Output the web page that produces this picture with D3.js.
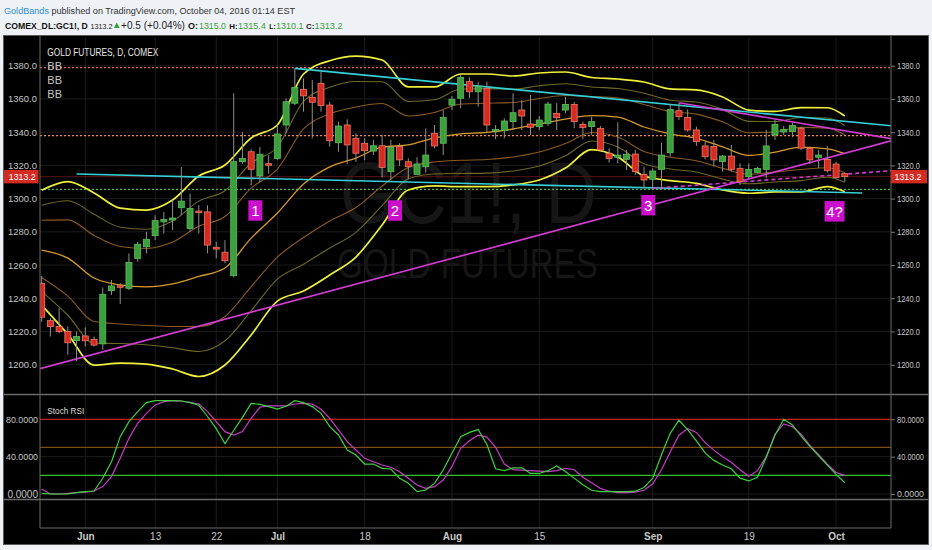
<!DOCTYPE html>
<html><head><meta charset="utf-8">
<script src="https://cdn.jsdelivr.net/npm/d3@7"></script>
<style>
body{margin:0;background:#eef2f6;}
svg{display:block;}
text{font-family:"Liberation Sans",Arial,sans-serif;}
</style></head><body>
<svg id="c" width="932" height="550"></svg>
<script>
// ---------------- DATA ----------------
const dates = ["2016-05-24","2016-05-25","2016-05-26","2016-05-27","2016-05-31",
"2016-06-01","2016-06-02","2016-06-03","2016-06-06","2016-06-07","2016-06-08","2016-06-09","2016-06-10","2016-06-13","2016-06-14","2016-06-15","2016-06-16","2016-06-17","2016-06-20","2016-06-21","2016-06-22","2016-06-23","2016-06-24","2016-06-27","2016-06-28","2016-06-29","2016-06-30",
"2016-07-01","2016-07-05","2016-07-06","2016-07-07","2016-07-08","2016-07-11","2016-07-12","2016-07-13","2016-07-14","2016-07-15","2016-07-18","2016-07-19","2016-07-20","2016-07-21","2016-07-22","2016-07-25","2016-07-26","2016-07-27","2016-07-28","2016-07-29",
"2016-08-01","2016-08-02","2016-08-03","2016-08-04","2016-08-05","2016-08-08","2016-08-09","2016-08-10","2016-08-11","2016-08-12","2016-08-15","2016-08-16","2016-08-17","2016-08-18","2016-08-19","2016-08-22","2016-08-23","2016-08-24","2016-08-25","2016-08-26","2016-08-29","2016-08-30","2016-08-31",
"2016-09-01","2016-09-02","2016-09-06","2016-09-07","2016-09-08","2016-09-09","2016-09-12","2016-09-13","2016-09-14","2016-09-15","2016-09-16","2016-09-19","2016-09-20","2016-09-21","2016-09-22","2016-09-23","2016-09-26","2016-09-27","2016-09-28","2016-09-29","2016-09-30",
"2016-10-03","2016-10-04"];
const futureDates = ["2016-10-05","2016-10-06"];

const opens = [1249,1226.5,1223,1220,1214.5,1217.3,1215.3,1212.5,1244.6,1247.5,1246,1264,1271,1277.7,1286,1287.1,1294.5,1282,1292.5,1292,1270.7,1267.7,1253.6,1322.2,1328.2,1313.6,1321,
1324.2,1344.3,1357.4,1365.8,1361,1369.4,1356.3,1333.6,1344.3,1336.3,1333.3,1328.6,1331.8,1316.2,1331.3,1322.2,1314.6,1319.2,1339.3,1333.3,
1356.3,1360.4,1370.4,1364.3,1366.4,1341,1340.9,1346.3,1353.3,1344.9,1343.3,1345.3,1351.3,1353.3,1356.7,1344.7,1343.3,1342.3,1327.3,1324.9,1323.6,1326.8,1314.6,
1311.6,1317.6,1327.6,1352.9,1348.9,1341.3,1331.7,1331.3,1322.2,1325.6,1318.2,1313.2,1315.8,1317.6,1338.3,1340.1,1340.3,1342.3,1330.3,1324.9,1323.6,
1320.8,1315.0];
const highs = [1253.4,1228,1234,1223,1220,1222.5,1217,1246.5,1251,1249,1267,1274,1280,1290,1292,1299,1319,1303,1296,1296,1274,1275,1363.4,1340,1329.7,1331,1326,
1344.3,1360.4,1378.4,1372.4,1371.4,1376.4,1358.3,1346.3,1347.7,1339.3,1336.3,1335.3,1338.3,1335.3,1333.3,1324.2,1324.9,1342.3,1344.3,1353.3,
1361.8,1374.4,1373,1370.4,1370.4,1344.3,1348.3,1363.4,1359.3,1362.4,1349.7,1358.3,1357.4,1361.3,1358.3,1346.3,1349.3,1343.7,1330.3,1346,1329.3,1329.3,1319.2,
1318.2,1333.6,1356.7,1357.7,1353.7,1343.3,1334.3,1335.3,1326.2,1332.3,1321.2,1321.2,1319.2,1341.3,1347.3,1343.7,1345.7,1343.3,1331.3,1329.3,1331.7,
1322.2,1315.4];
const lows = [1225.9,1217,1219,1206,1202,1211,1211,1209,1242,1236.5,1245,1262,1267,1275,1279,1281,1290,1280,1279,1267,1264,1261,1252.5,1321,1308,1310,1315,
1323.2,1339.3,1356.3,1352.3,1336.3,1352.3,1331.2,1328.2,1320.8,1322.2,1323.2,1326.2,1312.8,1311.2,1319.6,1311.6,1314.2,1315.6,1330.3,1326.2,
1353.3,1354.4,1360.4,1355.3,1340.3,1335.7,1336.3,1341.3,1341.3,1338.3,1341.3,1343.7,1341.3,1351.3,1342.3,1335.7,1338.3,1328.2,1321.6,1321.2,1317.2,1314.2,1306.2,
1306.2,1306.2,1325.2,1347.3,1340.3,1331.7,1323.6,1319.2,1316.2,1316.2,1308.2,1312.2,1315.2,1312.2,1335.3,1338.3,1336.9,1329.2,1320.8,1318.2,1315.6,
1312.2,1310.1];
const closes = [1228.6,1223,1220,1213.2,1217,1214.4,1211.8,1242.4,1247.4,1246.6,1261.6,1272.5,1275.5,1286.7,1287.5,1288.3,1298.5,1294,1291.5,1272,1269.6,1262.6,1322.2,1324.2,1317.6,1326.7,1320.4,
1338.9,1358.3,1367,1361.8,1358,1356,1334.8,1343.7,1332.3,1327.3,1328.8,1331.8,1318.8,1330.9,1323.3,1319.2,1320.8,1326.2,1331.7,1348.8,
1359.8,1373,1364.3,1367.4,1344.3,1341.6,1346.7,1351.7,1349.7,1342.9,1347.3,1356.9,1348.7,1356.7,1346.3,1342.7,1346.3,1329.3,1324.2,1326.2,1326.7,1316.2,1311.2,
1316.6,1326.2,1353.7,1349.3,1341.3,1334.3,1325.2,1323.3,1325.6,1317.6,1310.2,1317.6,1318.2,1331.7,1344.7,1341.7,1344.1,1330.3,1323.3,1326.2,1316.8,
1312.7,1313.2];

// Bollinger Bands (outer band + basis)
const bandDates = ["2016-05-24","2016-05-27","2016-06-02","2016-06-07","2016-06-10","2016-06-15","2016-06-20","2016-06-23","2016-06-28","2016-07-01","2016-07-07","2016-07-12","2016-07-15","2016-07-20","2016-07-25","2016-07-28","2016-08-02","2016-08-05","2016-08-10","2016-08-15","2016-08-18","2016-08-23","2016-08-26","2016-08-31","2016-09-06","2016-09-09","2016-09-14","2016-09-19","2016-09-22","2016-09-27","2016-09-30","2016-10-04"];
const bbUpper = [1305.0,1310.2,1303.4,1294.3,1293.1,1299.1,1313.6,1320.2,1336.5,1344.3,1375.0,1383.0,1385.8,1383.4,1367.2,1367.2,1375.0,1375.0,1373.8,1375.6,1376.2,1372.9,1372.0,1370.2,1366.0,1365.4,1361.2,1353.3,1352.5,1354.8,1354.7,1349.7];
const bbBasis = [1269.0,1264.2,1252.2,1248.0,1246.8,1248.6,1253.1,1258.2,1276.2,1291.3,1308.8,1319.1,1324.4,1331.0,1332.3,1336.5,1338.9,1339.8,1341.9,1344.9,1347.9,1350.0,1349.1,1343.1,1338.9,1336.3,1331.2,1326.0,1328.0,1331.0,1329.9,1327.1];
const bbLower = [1235.9,1218.3,1199.8,1201.0,1200.4,1197.4,1192.9,1199.8,1217.9,1238.3,1244.4,1254.0,1264.8,1284.1,1305.2,1307.6,1307.2,1307.2,1308.2,1311.2,1318.4,1329.5,1325.0,1313.6,1310.8,1309.2,1305.2,1303.2,1304.0,1304.1,1307.2,1304.1];
const bbMults = [1, 1.5, 2];   // three BB indicators, the widest one is bbUpper/bbLower

// Stoch RSI
const stochK = [0.7,0,0,0,1.4,2.5,3.2,16.8,34.6,61.4,77.5,88.2,97.9,100,100,100,99.6,97.9,95,83,70,54,68,82,97,96,93.6,91,94,100,97.9,93.6,86.4,72.1,63.2,47.1,41.8,32.1,32.1,27.5,26.8,16.8,11.4,2.5,4.3,11.4,25.7,43.6,61.4,
66,69,53,27,25,28,28,22,22,25,30,24,17,10,4,2.5,2.5,2.5,2.5,3,7,17,42,65,79,69,57,44,36,31,27,17,14,18,39,63,80,74,62,51,41,31,21,12];
const stochD = [5.4,0,0,0.7,1.4,2.1,3.2,7.9,18.6,38.2,59.6,75.7,86.4,95.4,98.9,100,99.6,98.2,96.4,88.2,77.5,66.8,63.2,66.8,81.1,92.9,94.3,94.3,94.3,96.4,97.1,96.4,90.7,81.1,68.6,56.1,47.1,38.2,34.6,31.1,28.6,23.9,16.8,9.6,6.1,7.9,15,29.3,48.9,
57,63,61,50,32,26,25.5,25,24.5,24,25,27.5,26,18,12,6,3,1.5,1.5,2,4,11,26,45,63,70,66,55,47,40,34,26,19,25,40,64,75,72,64,52,42,32,23,20];
const stochLevels = [80, 50, 20];
const stochTicks = [0, 40, 80];

const priceTicks = [1200,1220,1240,1260,1280,1300,1320,1340,1360,1380];
const xTickDates = ["2016-06-01","2016-06-13","2016-06-22","2016-07-01","2016-07-18","2016-08-01","2016-08-15","2016-09-01","2016-09-19","2016-10-03"];
const xTickLabels = ["Jun","13","22","Jul","18","Aug","15","Sep","19","Oct"];

// horizontal drawn levels
const levelPrices = [1378.8, 1337.9, 1305.6];
const levelColors = ["#e35d6a", "#f08a3a", "#36c236"];

// trendlines: [date, price] anchors
const cyanTop = [["2016-07-06",1378.4],["2016-10-04",1346.5]];
const cyanBottom = [["2016-05-31",1314.8],["2016-10-06",1303.4]];
const magentaRise = [["2016-05-24",1197.9],["2016-10-04",1327.3]];
const magentaFall = [["2016-09-07",1357.7],["2016-10-04",1340.8]];
const magentaDash = [["2016-09-01",1306.1],["2016-10-04",1314.7]];

// wave labels
const waveLabels = ["1","2","3","4?"];
const waveDates = ["2016-06-28","2016-07-21","2016-08-31","2016-09-30"];
const wavePrices = [1299.0, 1299.0, 1302.2, 1298.5];

// ---------------- DRAW ----------------
const svg = d3.select('#c');
const L = 40, R = 891, mainTop = 37, mainBot = 394, stTop = 395, stBot = 499, axY = 528;
const allDates = dates.concat(futureDates);
const pos = d => allDates.indexOf(d);
const last = dates.length - 1;

const x = d3.scaleLinear().domain([0, last]).range([41.65, 844.8]);
const y = d3.scaleLinear().domain([1200, 1380]).range([364.7, 65.7]);
const ys = d3.scaleLinear().domain([0, 80]).range([494, 419.3]);

// fit a text into a target width: shrink the font (optionally only part way, condensing the rest)
function fit(sel, w, minRatio) {
  const mr = minRatio == null ? 0 : minRatio;
  sel.each(function () {
    const n = this; const fs = parseFloat(n.getAttribute('font-size'));
    const cur = n.getComputedTextLength();
    if (cur > w) {
      const r = Math.max(mr, w / cur);
      n.setAttribute('font-size', (fs * r).toFixed(2));
      if (r > w / cur) { n.setAttribute('textLength', w); n.setAttribute('lengthAdjust', 'spacingAndGlyphs'); }
    }
  });
  return sel;
}

// header
const hf = '"Open Sans",sans-serif';
const hdr1 = svg.append('text').attr('x', 4).attr('y', 13.5).attr('font-size', 12).attr('font-family', hf);
hdr1.append('tspan').attr('fill', '#2f8fd3').text('GoldBands');
hdr1.append('tspan').attr('fill', '#333').text(' published on TradingView.com, October 04, 2016 01:14 EST');
fit(hdr1, 291);

const f1 = d3.format('.1f');
const chg = closes[last] - closes[last - 1];
const hdr2 = [
  {t: 'COMEX_DL:GC1!, D', x: 5, w: 83, b: true, c: '#111'},
  {t: f1(closes[last]), x: 90.5, w: 22, c: '#222'},
  {t: '+' + f1(chg) + ' (+' + d3.format('.2f')(chg / closes[last - 1] * 100) + '%)', x: 121, w: 64, c: '#222'},
  {t: 'O:', x: 188, w: 10, b: true, c: '#111'}, {t: f1(opens[last]), x: 199, w: 27, c: '#3a9d3a'},
  {t: 'H:', x: 229.3, w: 8.4, b: true, c: '#111'}, {t: f1(highs[last]), x: 238, w: 28, c: '#3a9d3a'},
  {t: 'L:', x: 269.3, w: 6.4, b: true, c: '#111'}, {t: f1(lows[last]), x: 276, w: 27.5, c: '#3a9d3a'},
  {t: 'C:', x: 306, w: 8.3, b: true, c: '#111'}, {t: f1(closes[last]), x: 314.6, w: 28, c: '#3a9d3a'}
];
const h2 = svg.selectAll('text.h2').data(hdr2).join('text').attr('class', 'h2')
  .attr('x', d => d.x).attr('y', 28.5).attr('font-size', 12).attr('font-family', hf)
  .attr('font-weight', d => d.b ? 'bold' : 'normal').attr('fill', d => d.c).text(d => d.t);
h2.each(function (d) { fit(d3.select(this), d.w); });
svg.append('path').attr('d', 'M114,28 L119.5,28 L116.75,22.5 Z').attr('fill', '#2ea02e');

// chart background
svg.append('rect').attr('x', 3.5).attr('y', 35.5).attr('width', 925).attr('height', 509)
  .attr('fill', '#000').attr('stroke', '#5a5a5a');

// clips
const defs = svg.append('defs');
defs.append('clipPath').attr('id', 'cm').append('rect').attr('x', L).attr('y', mainTop).attr('width', R - L).attr('height', mainBot - mainTop);
defs.append('clipPath').attr('id', 'cs').append('rect').attr('x', L).attr('y', stTop).attr('width', R - L).attr('height', stBot - stTop);

// grid
const grid = svg.append('g');
grid.selectAll('line.v').data(xTickDates).join('line').attr('class', 'v')
  .attr('x1', d => x(pos(d))).attr('x2', d => x(pos(d))).attr('y1', mainTop).attr('y2', axY)
  .attr('stroke', '#1c1c1c');
grid.selectAll('line.h').data(priceTicks).join('line').attr('class', 'h')
  .attr('x1', L).attr('x2', R).attr('y1', d => y(d)).attr('y2', d => y(d)).attr('stroke', '#1c1c1c');
grid.selectAll('line.hs').data(stochTicks).join('line').attr('class', 'hs')
  .attr('x1', L).attr('x2', R).attr('y1', d => ys(d)).attr('y2', d => ys(d)).attr('stroke', '#1c1c1c');

// watermark
const main = svg.append('g').attr('clip-path', 'url(#cm)');
main.append('text').attr('x', 468.5).attr('y', 223).attr('text-anchor', 'middle').attr('font-size', 88)
  .attr('fill', '#161616').attr('textLength', 257).attr('lengthAdjust', 'spacingAndGlyphs').text('GC1!, D');
main.append('text').attr('x', 467.5).attr('y', 278).attr('text-anchor', 'middle').attr('font-size', 43)
  .attr('fill', '#161616').attr('textLength', 261).attr('lengthAdjust', 'spacingAndGlyphs').text('GOLD FUTURES');

// horizontal levels
main.selectAll('line.lvl').data(levelPrices).join('line').attr('class', 'lvl')
  .attr('x1', L).attr('x2', R).attr('y1', d => y(d)).attr('y2', d => y(d))
  .attr('stroke', (d, i) => levelColors[i]).attr('stroke-dasharray', '2,2').attr('stroke-width', 1.3);

// current price line
main.append('line').attr('x1', L).attr('x2', R).attr('y1', y(closes[last])).attr('y2', y(closes[last]))
  .attr('stroke', '#5c1414');

// Bollinger bands
const bIdx = bandDates.map(pos);
const outerM = bbMults[bbMults.length - 1];
const bandLine = vals => d3.line().x((d, i) => x(bIdx[i])).y(d => y(d)).curve(d3.curveMonotoneX)(vals);
const innerColors = ['#8a5a22', '#6e6826'];
[0, 1].forEach(k => {
  const f = bbMults[k] / outerM;
  const up = bbBasis.map((b, i) => b + f * (bbUpper[i] - b));
  const lo = bbBasis.map((b, i) => b - f * (b - bbLower[i]));
  main.append('path').attr('d', bandLine(up)).attr('fill', 'none').attr('stroke', innerColors[k]).attr('stroke-width', 1.1);
  main.append('path').attr('d', bandLine(lo)).attr('fill', 'none').attr('stroke', innerColors[k]).attr('stroke-width', 1.1);
});
main.append('path').attr('d', bandLine(bbBasis)).attr('fill', 'none').attr('stroke', '#d69a2c').attr('stroke-width', 1.3);
main.append('path').attr('d', bandLine(bbUpper)).attr('fill', 'none').attr('stroke', '#f0f03a').attr('stroke-width', 1.7);
main.append('path').attr('d', bandLine(bbLower)).attr('fill', 'none').attr('stroke', '#f0f03a').attr('stroke-width', 1.7);

// trendlines
function trend(a, extL, extR, color, dash, w) {
  let x1 = x(pos(a[0][0])), y1 = y(a[0][1]), x2 = x(pos(a[1][0])), y2 = y(a[1][1]);
  const m = (y2 - y1) / (x2 - x1);
  if (extR) { y2 = y1 + m * (R - x1); x2 = R; }
  if (extL) { y1 = y1 + m * (L - x1); x1 = L; }
  main.append('line').attr('x1', x1).attr('y1', y1).attr('x2', x2).attr('y2', y2)
    .attr('stroke', color).attr('stroke-width', w || 1.6).attr('stroke-dasharray', dash || null);
}
trend(cyanTop, false, true, '#35d0d8');
trend(cyanBottom, false, false, '#35d0d8');
trend(magentaRise, true, true, '#d43ad4');
trend(magentaFall, false, true, '#d43ad4');
trend(magentaDash, false, true, '#d43ad4', '4,3');

// candles
const cw = 6;
const cg = main.append('g');
const up = i => closes[i] >= opens[i];
cg.selectAll('line.w').data(dates).join('line').attr('class', 'w')
  .attr('x1', (d, i) => x(i)).attr('x2', (d, i) => x(i))
  .attr('y1', (d, i) => y(highs[i])).attr('y2', (d, i) => y(lows[i]))
  .attr('stroke', '#8f8f8f').attr('stroke-width', 1);
cg.selectAll('rect.b').data(dates).join('rect').attr('class', 'b')
  .attr('x', (d, i) => x(i) - cw / 2).attr('width', cw)
  .attr('y', (d, i) => y(Math.max(opens[i], closes[i])))
  .attr('height', (d, i) => Math.max(1.5, Math.abs(y(opens[i]) - y(closes[i]))))
  .attr('fill', (d, i) => up(i) ? '#3e9e3e' : '#d52b22')
  .attr('stroke', (d, i) => up(i) ? '#5cbf5c' : '#ee7a66').attr('stroke-width', 0.8);

// wave labels
const wl = main.selectAll('g.wl').data(waveLabels).join('g').attr('class', 'wl');
wl.append('rect').attr('x', (d, i) => x(pos(waveDates[i])) - 2.8).attr('y', (d, i) => y(wavePrices[i]))
  .attr('width', d => d.length > 1 ? 20 : 14).attr('height', 20.5).attr('fill', '#cc0fcc');
wl.append('text').attr('x', (d, i) => x(pos(waveDates[i])) - 2.8 + (d.length > 1 ? 10 : 7))
  .attr('y', (d, i) => y(wavePrices[i]) + 16).attr('text-anchor', 'middle').attr('font-size', 15)
  .attr('font-family', hf).attr('fill', '#fff').text(d => d);

// legend
fit(svg.append('text').attr('x', 47.3).attr('y', 55.5).attr('font-size', 11.5).attr('fill', '#e6e6e6')
  .attr('font-family', hf).text('GOLD FUTURES, D, COMEX'), 111, 0.9);
svg.selectAll('text.bb').data([69.5, 84, 98.3]).join('text').attr('class', 'bb')
  .attr('x', 47.3).attr('y', d => d).attr('font-size', 11).attr('fill', '#c8c8c8')
  .attr('font-family', hf).text('BB');

// stoch pane
const st = svg.append('g').attr('clip-path', 'url(#cs)');
const lvlC = ['#c0201e', '#7c4a16', '#2fbf2f'];
st.selectAll('line.sl').data(stochLevels).join('line').attr('class', 'sl')
  .attr('x1', L).attr('x2', R).attr('y1', d => ys(d)).attr('y2', d => ys(d))
  .attr('stroke', (d, i) => lvlC[i]).attr('stroke-width', 1.2);
const sline = d3.line().x((d, i) => x(i)).y(d => ys(d));
st.append('path').attr('d', sline(stochD)).attr('fill', 'none').attr('stroke', '#c63cc6').attr('stroke-width', 1.2);
st.append('path').attr('d', sline(stochK)).attr('fill', 'none').attr('stroke', '#3ed23e').attr('stroke-width', 1.2);
fit(svg.append('text').attr('x', 47.3).attr('y', 414).attr('font-size', 11).attr('fill', '#dcdcdc')
  .attr('font-family', hf).text('Stoch RSI'), 37, 0.9);

// frame lines
const fr = svg.append('g').attr('stroke', '#6a6a6a');
fr.append('line').attr('x1', 4).attr('x2', 928).attr('y1', 394.5).attr('y2', 394.5).attr('stroke-width', 1.5);
fr.append('line').attr('x1', 4).attr('x2', 928).attr('y1', 499.5).attr('y2', 499.5).attr('stroke-width', 1.5);
fr.append('line').attr('x1', L).attr('x2', L).attr('y1', 36).attr('y2', axY);
fr.append('line').attr('x1', R).attr('x2', R).attr('y1', 36).attr('y2', axY);
fr.append('line').attr('x1', L).attr('x2', R).attr('y1', axY).attr('y2', axY);

// axes
const axFont = '"Liberation Sans Narrow","Arial Narrow","Liberation Sans",sans-serif';
function styleAx(g, w) {
  g.select('.domain').remove();
  g.selectAll('line').attr('stroke', '#777');
  const t = g.selectAll('text').attr('fill', '#c4c4c4').attr('font-size', 10).attr('font-family', axFont);
  t.each(function () { fit(d3.select(this), w, 0.9); });
}
svg.append('g').attr('transform', `translate(${R},0)`)
  .call(d3.axisRight(y).tickValues(priceTicks).tickSize(4).tickPadding(2).tickFormat(f1)).call(g => styleAx(g, 23));
svg.append('g').attr('transform', `translate(${L},0)`)
  .call(d3.axisLeft(y).tickValues(priceTicks).tickSize(0).tickPadding(3).tickFormat(f1)).call(g => styleAx(g, 29));
const f4 = d3.format('.4f');
svg.append('g').attr('transform', `translate(${R},0)`)
  .call(d3.axisRight(ys).tickValues(stochTicks).tickSize(4).tickPadding(2).tickFormat(f4)).call(g => styleAx(g, 27));
svg.append('g').attr('transform', `translate(${L},0)`)
  .call(d3.axisLeft(ys).tickValues(stochTicks).tickSize(0).tickPadding(2).tickFormat(f4)).call(g => styleAx(g, 32));

const xa = svg.append('g').attr('transform', `translate(0,${axY})`)
  .call(d3.axisBottom(x).tickValues(xTickDates.map(pos)).tickSize(0).tickPadding(5)
    .tickFormat((d, i) => xTickLabels[i]));
xa.select('.domain').remove();
xa.selectAll('text').attr('fill', '#c8c8c8').attr('font-size', 10).attr('font-family', axFont)
  .attr('font-weight', (d, i) => /^[A-Z]/.test(xTickLabels[i]) ? 'bold' : 'normal');

// last price labels
const lp = y(closes[last]);
[[R, 36], [4, 34.5]].forEach(([x0, w]) => {
  svg.append('rect').attr('x', x0).attr('y', lp - 6.7).attr('width', w).attr('height', 13.4).attr('fill', '#d32a22');
  fit(svg.append('text').attr('x', x0 + w / 2 + (x0 === R ? -1 : 1)).attr('y', lp + 3.5).attr('text-anchor', 'middle')
    .attr('font-size', 10).attr('font-family', axFont).attr('fill', '#fff').text(f1(closes[last])), 27, 0.9);
});
</script>
</body></html>
